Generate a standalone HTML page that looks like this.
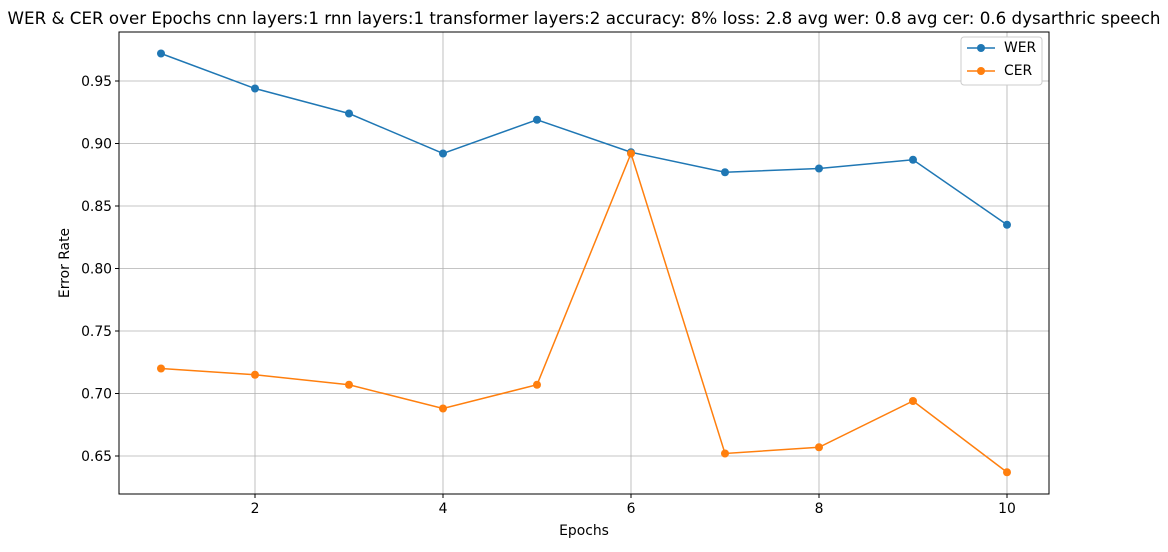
<!DOCTYPE html>
<html><head><meta charset="utf-8"><style>body{margin:0;background:#fff}svg text{font-family:"DejaVu Sans","Liberation Sans",sans-serif}</style></head>
<body>
<svg id="chart" width="1168" height="547">
<text x="584" y="24" font-size="16.7" text-anchor="middle">WER &amp; CER over Epochs cnn layers:1 rnn layers:1 transformer layers:2 accuracy: 8% loss: 2.8 avg wer: 0.8 avg cer: 0.6 dysarthric speech</text>
<g id="grid"></g>
<rect x="119" y="32" width="930" height="462" fill="none" stroke="#000" stroke-width="1"/>
<g id="axes"></g>
<g id="series"></g>
<text x="584" y="535" font-size="13.9" text-anchor="middle">Epochs</text>
<text x="69" y="263" font-size="13.9" text-anchor="middle" transform="rotate(-90 69 263)">Error Rate</text>
<g>
<rect x="961" y="37" width="81" height="48" fill="#fff" stroke="#ccc" rx="3"/>
<g><line x1="967" y1="48" x2="995" y2="48" stroke="#1f77b4" stroke-width="1.5"/><circle cx="981" cy="48" r="4" fill="#1f77b4"/><text x="1004" y="52" font-size="13.9">WER</text></g>
<g><line x1="967" y1="71" x2="995" y2="71" stroke="#ff7f0e" stroke-width="1.5"/><circle cx="981" cy="71" r="4" fill="#ff7f0e"/><text x="1004" y="75" font-size="13.9">CER</text></g>
</g>
</svg>
<script>
const epochs=[1,2,3,4,5,6,7,8,9,10];
const wer=[0.972,0.944,0.924,0.892,0.919,0.893,0.877,0.880,0.887,0.835];
const cer=[0.720,0.715,0.707,0.688,0.707,0.892,0.652,0.657,0.694,0.637];
const xTicks=[2,4,6,8,10];
const yTicks=[0.65,0.70,0.75,0.80,0.85,0.90,0.95];
const NS='http://www.w3.org/2000/svg';
const x=e=>161+(e-1)*94;
const y=v=>81+(0.95-v)*1250;
function mk(tag,attrs,parent){const el=document.createElementNS(NS,tag);for(const k in attrs)el.setAttribute(k,attrs[k]);parent.appendChild(el);return el;}
const grid=document.getElementById('grid'),axes=document.getElementById('axes'),ser=document.getElementById('series');
xTicks.forEach(t=>{
 const g=mk('line',{x1:x(t),x2:x(t),y1:32,y2:494,stroke:'#b0b0b0','stroke-width':0.8},grid);
 
 
 mk('line',{x1:x(t),x2:x(t),y1:494,y2:498,stroke:'#000'},axes);
 const l=mk('text',{x:x(t),y:513,'font-size':13.9,'text-anchor':'middle'},axes);
 l.textContent=t;
 
 
});
yTicks.forEach(t=>{
 const g=mk('line',{x1:119,x2:1049,y1:y(t),y2:y(t),stroke:'#b0b0b0','stroke-width':0.8},grid);
 
 
 mk('line',{x1:115,x2:119,y1:y(t),y2:y(t),stroke:'#000'},axes);
 const l=mk('text',{x:112,y:y(t)+5,'font-size':13.9,'text-anchor':'end'},axes);
 l.textContent=t.toFixed(2);
 
 
});
function draw(vals,color,name){
 const p=mk('polyline',{points:vals.map((v,i)=>x(epochs[i])+','+y(v)).join(' '),fill:'none',stroke:color,'stroke-width':1.5},ser);
 
 
 vals.forEach((v,i)=>{
  const c=mk('circle',{cx:x(epochs[i]),cy:y(v),r:4,fill:color},ser);
  
  
 });
}
draw(wer,'#1f77b4','wer');
draw(cer,'#ff7f0e','cer');
</script>
</body></html>
